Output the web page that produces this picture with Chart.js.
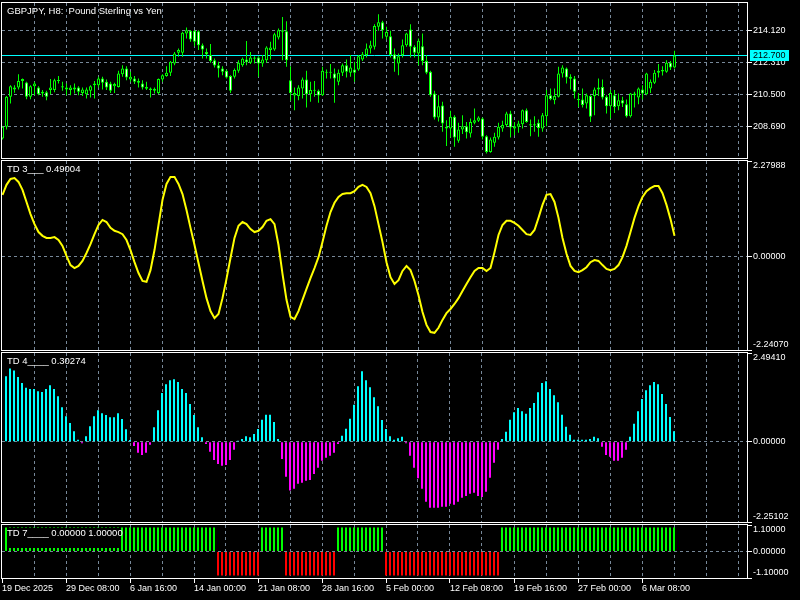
<!DOCTYPE html>
<html lang="en">
<head>
<meta charset="UTF-8">
<title>GBPJPY, H8</title>
<style>
  html, body { margin: 0; padding: 0; background: #000; }
  body { position: relative; width: 800px; height: 600px; overflow: hidden; }
  canvas { position: absolute; left: 0; }
</style>
</head>
<body>
<canvas id="pricePane" width="800" height="160" style="top:0px"></canvas>
<canvas id="td3Pane" width="800" height="192" style="top:160px"></canvas>
<canvas id="td4Pane" width="800" height="172" style="top:352px"></canvas>
<canvas id="td7Pane" width="800" height="76" style="top:524px"></canvas>

<script src="https://cdn.jsdelivr.net/npm/chart.js"></script>
<script>
// GBPJPY H8 bars, oldest first (index = bar number)
const opens = [
  208.01, 208.67, 210.37, 210.90, 210.90, 211.27, 211.18, 210.37, 210.97, 210.90,
  210.56, 210.63, 210.75, 210.75, 211.27, 210.97, 210.90, 210.75, 210.90, 210.90,
  210.59, 210.52, 210.71, 211.03, 211.03, 211.41, 211.22, 211.12, 210.97, 210.93,
  211.65, 211.97, 211.35, 211.41, 211.27, 211.12, 210.93, 210.84, 210.71, 210.59,
  211.35, 211.54, 211.73, 212.25, 212.86, 212.86, 213.95, 214.10, 214.10, 214.08,
  213.29, 212.91, 212.73, 212.44, 212.16, 211.97, 211.84, 211.54, 211.50, 211.84,
  212.16, 212.48, 212.29, 212.59, 212.59, 212.25, 212.44, 213.01, 213.05, 213.72,
  214.05, 214.08, 211.31, 210.44, 210.41, 210.84, 211.35, 210.52, 210.75, 210.71,
  210.46, 211.73, 211.78, 211.69, 211.22, 211.73, 212.16, 211.73, 211.91, 211.91,
  212.48, 212.73, 213.10, 213.20, 214.33, 214.59, 213.76, 213.80, 212.78, 212.25,
  212.73, 213.29, 214.18, 213.20, 212.82, 213.23, 212.40, 211.78, 210.56, 209.20,
  209.88, 208.67, 208.58, 209.24, 207.88, 208.52, 208.71, 208.29, 208.90, 209.01,
  209.14, 208.14, 207.25, 207.77, 208.07, 208.58, 208.77, 209.43, 208.58, 208.67,
  208.82, 209.61, 208.82, 208.75, 208.90, 208.58, 209.27, 210.46, 210.18, 210.37,
  211.69, 211.97, 211.50, 211.41, 210.25, 210.22, 209.99, 210.41, 210.41, 210.78,
  210.93, 210.37, 209.84, 210.46, 209.84, 210.18, 209.95, 209.27, 210.56, 210.33,
  210.78, 210.52, 210.84, 211.16, 211.73, 211.80, 211.78, 212.29, 212.03
];
const highs = [
  208.71, 210.42, 211.03, 211.03, 211.65, 211.41, 211.22, 211.03, 211.22, 210.97,
  210.75, 210.71, 211.37, 211.39, 211.54, 211.22, 211.12, 211.03, 211.12, 210.97,
  210.90, 210.90, 211.03, 211.27, 211.50, 211.50, 211.35, 211.22, 211.16, 211.84,
  212.16, 212.10, 211.78, 211.54, 211.41, 211.31, 211.22, 210.90, 210.90, 211.41,
  211.65, 212.10, 212.40, 212.91, 213.10, 214.05, 214.29, 214.14, 214.14, 214.14,
  213.38, 213.10, 213.35, 212.54, 212.35, 212.10, 211.91, 211.59, 211.97, 212.44,
  212.59, 213.52, 212.91, 212.67, 212.67, 212.73, 213.23, 213.48, 213.99, 214.23,
  214.89, 214.65, 212.10, 210.90, 211.03, 211.46, 211.84, 211.22, 211.27, 210.78,
  212.07, 211.91, 212.22, 211.97, 211.91, 212.25, 212.48, 212.73, 212.35, 212.73,
  212.91, 213.38, 213.54, 214.48, 215.04, 214.67, 214.33, 214.10, 213.10, 212.82,
  213.61, 213.99, 214.48, 213.29, 213.67, 213.95, 212.73, 211.84, 210.71, 210.46,
  210.09, 209.05, 209.58, 209.33, 208.90, 209.33, 208.95, 209.14, 209.71, 209.27,
  209.20, 208.20, 208.07, 208.33, 208.90, 209.01, 209.52, 209.58, 208.95, 209.01,
  209.65, 209.71, 209.09, 209.27, 209.09, 209.46, 210.75, 210.84, 210.84, 212.07,
  212.16, 212.03, 211.65, 211.54, 210.59, 210.84, 210.56, 210.46, 210.90, 211.41,
  211.35, 210.46, 210.75, 210.75, 210.56, 210.37, 210.22, 210.59, 210.65, 210.90,
  211.03, 211.73, 211.35, 211.88, 212.22, 212.10, 212.44, 212.40, 212.97
];
const lows = [
  207.95, 208.52, 209.99, 210.60, 210.78, 210.84, 210.23, 210.23, 210.46, 210.46,
  210.37, 210.18, 210.52, 210.63, 211.12, 210.71, 210.46, 210.46, 210.56, 210.46,
  210.41, 210.27, 210.33, 210.27, 210.90, 210.78, 210.75, 210.59, 210.59, 210.90,
  211.50, 211.31, 211.22, 211.09, 210.90, 210.78, 210.75, 210.33, 210.56, 210.52,
  211.22, 211.50, 211.54, 212.16, 212.63, 212.63, 213.67, 213.48, 213.23, 213.01,
  212.54, 212.54, 212.29, 212.03, 211.46, 211.59, 211.41, 210.59, 211.41, 211.73,
  212.07, 212.16, 212.22, 212.25, 211.50, 212.07, 212.29, 212.48, 212.97, 213.61,
  212.44, 212.07, 210.14, 209.61, 210.18, 210.27, 209.77, 210.09, 210.37, 210.03,
  210.41, 211.41, 211.41, 210.03, 211.03, 211.54, 211.46, 211.50, 211.22, 211.84,
  212.40, 212.59, 212.82, 213.05, 214.10, 213.67, 213.61, 212.59, 211.78, 211.59,
  212.59, 213.20, 212.59, 212.59, 212.16, 212.16, 211.65, 210.37, 209.09, 208.97,
  208.39, 207.58, 208.07, 207.54, 207.77, 208.26, 208.01, 208.07, 208.82, 208.95,
  207.95, 207.16, 207.20, 207.54, 207.95, 208.39, 208.67, 208.07, 208.20, 208.33,
  208.58, 208.90, 208.14, 208.39, 208.11, 208.39, 208.71, 210.18, 209.95, 210.33,
  211.46, 211.12, 210.78, 210.27, 209.80, 209.77, 209.71, 208.95, 209.33, 210.41,
  210.22, 209.43, 209.14, 209.46, 209.61, 209.80, 209.20, 209.20, 209.77, 209.95,
  210.22, 210.46, 210.59, 211.09, 211.46, 211.57, 211.73, 211.88, 211.97
];
const closes = [
  208.67, 210.37, 210.97, 210.78, 211.27, 211.37, 210.37, 210.97, 211.12, 210.52,
  210.65, 210.37, 210.90, 211.31, 211.31, 210.90, 210.78, 210.90, 210.78, 210.65,
  210.78, 210.78, 210.97, 211.12, 211.41, 211.16, 210.90, 210.71, 211.09, 211.69,
  211.97, 211.46, 211.50, 211.22, 211.16, 210.90, 210.82, 210.75, 210.82, 211.37,
  211.59, 211.73, 212.35, 212.82, 213.01, 213.99, 214.14, 213.61, 213.48, 213.29,
  213.05, 212.78, 212.40, 212.14, 211.97, 211.78, 211.46, 210.71, 211.88, 212.29,
  212.52, 212.33, 212.59, 212.52, 212.25, 212.48, 213.16, 213.16, 213.91, 214.14,
  214.14, 212.44, 210.59, 210.59, 210.90, 211.35, 210.52, 210.75, 210.71, 210.44,
  211.84, 211.78, 211.73, 211.41, 211.73, 212.16, 211.78, 212.03, 211.73, 212.67,
  212.78, 213.10, 213.29, 214.37, 214.59, 214.14, 214.03, 212.73, 212.48, 212.67,
  213.29, 213.95, 213.20, 212.86, 213.54, 212.40, 211.73, 210.46, 209.20, 209.84,
  208.86, 208.58, 209.24, 208.07, 208.52, 208.71, 208.37, 208.95, 209.05, 209.20,
  208.11, 207.25, 207.95, 208.11, 208.67, 208.77, 209.43, 208.63, 208.71, 208.86,
  209.61, 208.95, 208.75, 208.82, 208.60, 209.33, 210.46, 210.25, 210.41, 211.69,
  212.03, 211.46, 211.39, 210.65, 210.18, 209.90, 210.46, 209.24, 210.78, 210.90,
  210.33, 209.84, 210.59, 209.80, 210.18, 209.99, 209.27, 210.56, 210.46, 210.84,
  210.56, 211.69, 211.22, 211.73, 211.84, 211.88, 212.29, 212.03, 212.70
];

// TD 3 line
const td3 = [
  1.47, 1.71, 1.85, 1.87, 1.78, 1.59, 1.30, 1.01, 0.77, 0.58,
  0.49, 0.44, 0.44, 0.46, 0.39, 0.25, 0.01, -0.21, -0.28, -0.23,
  -0.11, 0.08, 0.29, 0.53, 0.75, 0.87, 0.82, 0.68, 0.61, 0.58,
  0.53, 0.39, 0.15, -0.14, -0.40, -0.59, -0.61, -0.33, 0.15, 0.75,
  1.35, 1.73, 1.90, 1.90, 1.73, 1.49, 1.11, 0.68, 0.27, -0.16,
  -0.59, -1.00, -1.31, -1.48, -1.38, -1.00, -0.54, -0.04, 0.44, 0.73,
  0.82, 0.77, 0.65, 0.58, 0.61, 0.70, 0.85, 0.89, 0.77, 0.27,
  -0.42, -1.04, -1.45, -1.50, -1.31, -1.04, -0.78, -0.52, -0.28, -0.02,
  0.34, 0.73, 1.06, 1.28, 1.42, 1.49, 1.51, 1.51, 1.56, 1.66,
  1.71, 1.66, 1.51, 1.20, 0.77, 0.34, -0.14, -0.50, -0.66, -0.57,
  -0.35, -0.23, -0.33, -0.59, -0.93, -1.33, -1.64, -1.81, -1.83, -1.71,
  -1.52, -1.36, -1.26, -1.14, -1.00, -0.83, -0.66, -0.50, -0.35, -0.28,
  -0.28, -0.35, -0.28, 0.10, 0.51, 0.75, 0.85, 0.85, 0.80, 0.73,
  0.63, 0.53, 0.51, 0.63, 0.92, 1.23, 1.47, 1.49, 1.30, 0.92,
  0.44, 0.06, -0.23, -0.35, -0.38, -0.33, -0.26, -0.14, -0.09, -0.11,
  -0.21, -0.30, -0.33, -0.30, -0.21, -0.02, 0.25, 0.58, 0.92, 1.20,
  1.42, 1.56, 1.63, 1.68, 1.68, 1.51, 1.23, 0.89, 0.49
];

// TD 4 histogram
const td4 = [
  null, 1.84, 2.06, 2.00, 1.82, 1.65, 1.52, 1.48, 1.48, 1.42,
  1.40, 1.48, 1.59, 1.48, 1.28, 0.97, 0.72, 0.53, 0.30, 0.06,
  -0.04, 0.16, 0.44, 0.72, 0.89, 0.80, 0.75, 0.69, 0.69, 0.80,
  0.64, 0.35, 0.05, -0.12, -0.31, -0.37, -0.31, -0.08, 0.41, 0.89,
  1.37, 1.62, 1.73, 1.76, 1.68, 1.48, 1.37, 1.06, 0.75, 0.41,
  0.13, -0.06, -0.28, -0.51, -0.62, -0.67, -0.65, -0.51, -0.22, 0.01,
  0.08, 0.16, 0.13, 0.22, 0.36, 0.62, 0.76, 0.76, 0.56, 0.08,
  -0.48, -0.98, -1.37, -1.32, -1.18, -1.15, -1.09, -1.07, -0.90, -0.73,
  -0.53, -0.45, -0.39, -0.31, -0.06, 0.17, 0.37, 0.65, 1.04, 1.56,
  1.98, 1.73, 1.53, 1.25, 1.00, 0.61, 0.36, 0.16, 0.06, 0.10,
  0.14, -0.04, -0.39, -0.73, -1.02, -1.32, -1.68, -1.85, -1.85, -1.85,
  -1.82, -1.82, -1.74, -1.77, -1.68, -1.57, -1.52, -1.46, -1.43, -1.52,
  -1.55, -1.40, -1.01, -0.59, -0.22, 0.08, 0.28, 0.62, 0.83, 0.95,
  0.86, 0.79, 0.95, 1.09, 1.39, 1.65, 1.70, 1.48, 1.31, 1.11,
  0.76, 0.42, 0.20, 0.06, 0.06, 0.06, 0.06, 0.08, 0.14, 0.10,
  -0.14, -0.37, -0.42, -0.53, -0.53, -0.45, -0.22, 0.14, 0.51, 0.86,
  1.20, 1.45, 1.59, 1.68, 1.62, 1.34, 1.06, 0.70, 0.30
];

// TD 7 state (+1 / -1)
const td7 = [
  null, 1, 1, 1, 1, 1, 1, 1, 1, 1,
  1, 1, 1, 1, 1, 1, 1, 1, 1, 1,
  1, 1, 1, 1, 1, 1, 1, 1, 1, 1,
  1, 1, 1, 1, 1, 1, 1, 1, 1, 1,
  1, 1, 1, 1, 1, 1, 1, 1, 1, 1,
  1, 1, 1, 1, -1, -1, -1, -1, -1, -1,
  -1, -1, -1, -1, -1, 1, 1, 1, 1, 1,
  1, -1, -1, -1, -1, -1, -1, -1, -1, -1,
  -1, -1, -1, -1, 1, 1, 1, 1, 1, 1,
  1, 1, 1, 1, 1, 1, -1, -1, -1, -1,
  -1, -1, -1, -1, -1, -1, -1, -1, -1, -1,
  -1, -1, -1, -1, -1, -1, -1, -1, -1, -1,
  -1, -1, -1, -1, -1, 1, 1, 1, 1, 1,
  1, 1, 1, 1, 1, 1, 1, 1, 1, 1,
  1, 1, 1, 1, 1, 1, 1, 1, 1, 1,
  1, 1, 1, 1, 1, 1, 1, 1, 1, 1,
  1, 1, 1, 1, 1, 1, 1, 1, 1
];

const dateLabels = ['19 Dec 2025', '29 Dec 08:00', '6 Jan 16:00', '14 Jan 00:00', '21 Jan 08:00',
  '28 Jan 16:00', '5 Feb 00:00', '12 Feb 08:00', '19 Feb 16:00', '27 Feb 00:00', '6 Mar 08:00'];

const priceTicks = [214.12, 212.31, 210.50, 208.69];
const td3Ticks = [2.27988, 0, -2.24070];
const td4Ticks = [2.49410, 0, -2.25102];
const td7Ticks = [1.1, 0, -1.1];

const LIME = '#00ff00', CYAN = '#00ffff', GRID = '#778899', NONE = 'rgba(0,0,0,0)';
const FONT = '"Liberation Sans", Arial, sans-serif';
const SPAN = 186.25;       // bar slots across the plot, 4px each
const gridBars = [];
for (let b = 0; b <= 184; b += 8) gridBars.push(b);

Chart.defaults.font.family = FONT;

// frame, right-hand labels, pane caption, bid line
const decor = {
  id: 'decor',
  beforeDatasetsDraw(chart, args, o) {
    if (o.priceLine == null) return;
    const { ctx, chartArea: a, scales: { y } } = chart;
    const py = Math.floor(y.getPixelForValue(o.priceLine)) + 0.5;
    ctx.save();
    ctx.strokeStyle = CYAN;
    ctx.lineWidth = 1;
    ctx.beginPath();
    ctx.moveTo(a.left, py);
    ctx.lineTo(a.right, py);
    ctx.stroke();
    ctx.restore();
  },
  afterDraw(chart, args, o) {
    const { ctx, chartArea: a, scales: { y } } = chart;
    ctx.save();
    ctx.strokeStyle = '#fff';
    ctx.lineWidth = 1;
    ctx.strokeRect(a.left - 0.5, a.top - 0.5, a.right - a.left + 1, a.bottom - a.top + 1);

    ctx.font = '9px ' + FONT;
    ctx.fillStyle = '#fff';
    ctx.textAlign = 'left';
    ctx.textBaseline = 'middle';
    o.yLabels.forEach(v => {
      let py = y.getPixelForValue(v);
      if (v === y.max) py = a.top + 4.5;
      else if (v === y.min) py = a.bottom - 5;
      ctx.fillText(v.toFixed(o.decimals), a.right + 6, py);
    });

    if (o.priceLine != null) {
      const py = Math.floor(y.getPixelForValue(o.priceLine));
      ctx.fillStyle = CYAN;
      ctx.fillRect(a.right + 3, py - 5, 39, 11);
      ctx.fillStyle = '#000';
      ctx.fillText(o.priceLine.toFixed(3), a.right + 6, py + 0.5);
    }

    ctx.font = '9.5px ' + FONT;
    ctx.textBaseline = 'alphabetic';
    if (o.box) {
      ctx.fillStyle = '#000';
      ctx.fillRect(a.left + o.box[0], a.top + o.box[1], o.box[2], o.box[3]);
    }
    ctx.fillStyle = '#fff';
    ctx.fillText(o.title, a.left + 5, a.top + 11);
    ctx.restore();
  }
};

function paneOptions(p) {
  const onLabel = v => v % 16 === 0 && v / 16 < dateLabels.length;
  return {
    responsive: false,
    animation: false,
    devicePixelRatio: 1,
    layout: { padding: p.padding },
    plugins: { legend: { display: false }, tooltip: { enabled: false }, decor: p.decor },
    scales: {
      x: {
        type: 'linear', min: p.xMin, max: p.xMin + SPAN, offset: false,
        afterBuildTicks: s => { s.ticks = gridBars.map(v => ({ value: v })); },
        afterFit: s => { s.height = p.bottomAxis ? 22 : 0; },
        grid: {
          offset: false, drawTicks: !!p.bottomAxis, tickLength: 5, tickBorderDash: [],
          color: c => (!c.tick || c.tick.value === 0) ? NONE : GRID,
          tickColor: c => (c.tick && onLabel(c.tick.value)) ? '#fff' : NONE
        },
        border: { display: false, dash: [3, 3] },
        ticks: {
          display: !!p.bottomAxis, autoSkip: false, maxRotation: 0, minRotation: 0,
          align: 'start', padding: 0, color: '#fff', font: { family: FONT, size: 9 },
          callback: v => onLabel(v) ? dateLabels[v / 16] : ''
        }
      },
      y: {
        position: 'right', min: p.yMin, max: p.yMax,
        afterBuildTicks: s => { s.ticks = p.yTicks.map(v => ({ value: v })); },
        afterFit: s => { s.width = 53; },
        grid: {
          drawTicks: true, tickLength: 5, tickColor: '#fff', tickBorderDash: [],
          color: c => (!c.tick || c.tick.value === p.yMin || c.tick.value === p.yMax) ? NONE : GRID
        },
        border: { display: false, dash: [3, 3] },
        ticks: { display: false }
      }
    }
  };
}

// price pane: body bars over wick bars
new Chart(document.getElementById('pricePane'), {
  type: 'bar',
  data: {
    datasets: [{
      data: opens.map((o, i) => ({ x: i, y: [Math.min(o, closes[i]), Math.max(o, closes[i])] })),
      backgroundColor: c => closes[c.dataIndex] < opens[c.dataIndex] ? '#ffffff' : '#000000',
      borderColor: LIME, borderWidth: 1, borderSkipped: false, inflateAmount: 0,
      grouped: false, barThickness: 3, maxBarThickness: 3, minBarLength: 1
    }, {
      data: lows.map((l, i) => ({ x: i, y: [l, highs[i]] })),
      backgroundColor: LIME, borderWidth: 0, inflateAmount: 0,
      grouped: false, barThickness: 1, maxBarThickness: 1
    }]
  },
  plugins: [decor],
  options: paneOptions({
    padding: { top: 3, bottom: 2, left: 2, right: 0 },
    xMin: -0.125, yMin: 206.9083, yMax: 215.6755, yTicks: priceTicks,
    decor: { title: 'GBPJPY, H8:  Pound Sterling vs Yen', yLabels: priceTicks, decimals: 3,
             priceLine: closes[closes.length - 1] }
  })
});

new Chart(document.getElementById('td3Pane'), {
  type: 'line',
  data: {
    datasets: [{
      data: td3.map((v, i) => ({ x: i, y: v })),
      borderColor: '#ffff00', borderWidth: 2, pointRadius: 0, tension: 0, fill: false
    }]
  },
  plugins: [decor],
  options: paneOptions({
    padding: { top: 1, bottom: 2, left: 2, right: 0 },
    xMin: -0.125, yMin: td3Ticks[2], yMax: td3Ticks[0], yTicks: td3Ticks,
    decor: { title: 'TD 3___ 0.49004', yLabels: td3Ticks, decimals: 5 }
  })
});

new Chart(document.getElementById('td4Pane'), {
  type: 'bar',
  data: {
    datasets: [{
      data: td4.map((v, i) => ({ x: i, y: v })),
      backgroundColor: c => (c.raw && c.raw.y < 0) ? '#ff00ff' : CYAN,
      borderWidth: 0, inflateAmount: 0, grouped: false,
      barThickness: 2, maxBarThickness: 2, minBarLength: 1
    }]
  },
  plugins: [decor],
  options: paneOptions({
    padding: { top: 1, bottom: 2, left: 2, right: 0 },
    xMin: 0, yMin: td4Ticks[2], yMax: td4Ticks[0], yTicks: td4Ticks,
    decor: { title: 'TD 4____ 0.30274', yLabels: td4Ticks, decimals: 5 }
  })
});

new Chart(document.getElementById('td7Pane'), {
  type: 'bar',
  data: {
    datasets: [{
      data: td7.map((v, i) => ({ x: i, y: v })),
      backgroundColor: c => (c.raw && c.raw.y < 0) ? '#ff0000' : LIME,
      borderWidth: 0, inflateAmount: 0, grouped: false,
      barThickness: 2, maxBarThickness: 2
    }]
  },
  plugins: [decor],
  options: paneOptions({
    padding: { top: 1, bottom: 0, left: 2, right: 0 },
    xMin: 0, yMin: td7Ticks[2], yMax: td7Ticks[0], yTicks: td7Ticks, bottomAxis: true,
    decor: { title: 'TD 7____ 0.00000 1.00000', yLabels: td7Ticks, decimals: 5, box: [5, 3, 114, 20] }
  })
});
</script>
</body>
</html>
